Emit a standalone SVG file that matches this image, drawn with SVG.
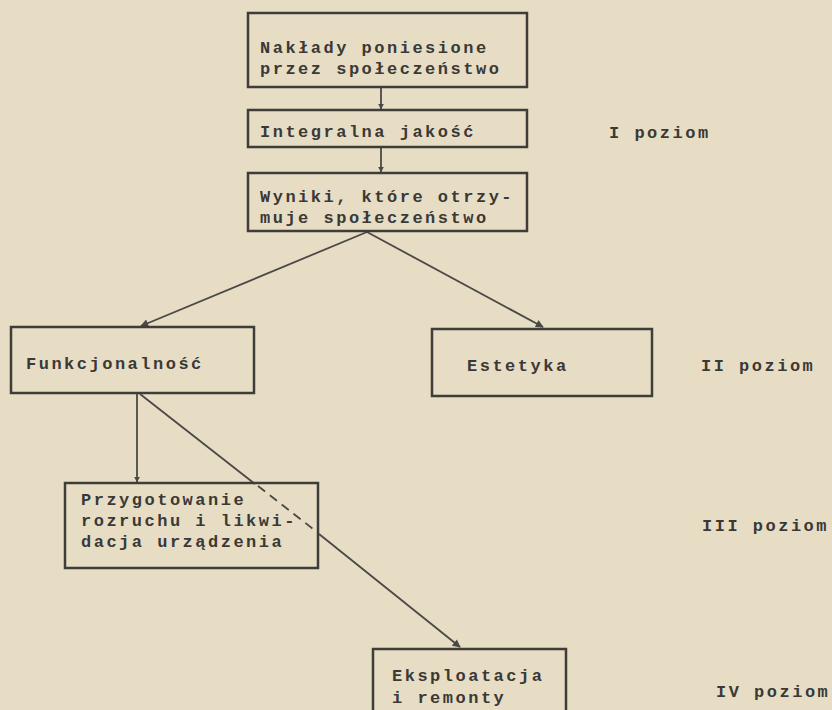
<svg xmlns="http://www.w3.org/2000/svg" width="832" height="710" viewBox="0 0 832 710">
<defs>
<style>
.bx{fill:none;stroke:#3e3d3a;stroke-width:2.5}
.t{font-family:"Liberation Mono","DejaVu Sans Mono",monospace;font-weight:bold;font-size:17px;letter-spacing:2.5px;fill:#3a3936}
.c{fill:none;stroke:#4a4945;stroke-width:1.8}
.d{fill:none;stroke:#4a4945;stroke-width:1.8;stroke-dasharray:9 6}
</style>
<marker id="ah" viewBox="0 0 10 10" refX="9" refY="5" markerWidth="6" markerHeight="6" orient="auto" markerUnits="userSpaceOnUse">
<path d="M0,0 L10,5 L0,10 z" fill="#4a4945"/>
</marker>
<marker id="ah2" viewBox="0 0 10 10" refX="9" refY="5" markerWidth="9" markerHeight="8" orient="auto" markerUnits="userSpaceOnUse">
<path d="M0,0 L10,5 L0,10 z" fill="#4a4945"/>
</marker>
</defs>
<rect width="832" height="710" fill="#e7ddc5"/>
<g id="connectors">
<line class="c" x1="381" y1="88" x2="381" y2="109" marker-end="url(#ah)"/>
<line class="c" x1="381" y1="148" x2="381" y2="172" marker-end="url(#ah)"/>
<line class="c" x1="367" y1="232" x2="141" y2="326" marker-end="url(#ah2)"/>
<line class="c" x1="367" y1="232" x2="543" y2="327" marker-end="url(#ah2)"/>
<line class="c" x1="137" y1="394" x2="137" y2="482" marker-end="url(#ah)"/>
<line class="c" x1="140" y1="394" x2="255" y2="484"/>
<line class="d" x1="258" y1="486" x2="317" y2="532"/>
<line class="c" x1="319" y1="534" x2="460" y2="647" marker-end="url(#ah2)"/>
</g>
<g id="n1">
<rect class="bx" x="248" y="13" width="279" height="74"/>
<text class="t" x="260" y="53">Nakłady poniesione</text>
<text class="t" x="260" y="74">przez społeczeństwo</text>
</g>
<g id="n2">
<rect class="bx" x="248" y="110" width="279" height="37"/>
<text class="t" x="260" y="137">Integralna jakość</text>
</g>
<g id="n3">
<rect class="bx" x="248" y="173" width="279" height="58"/>
<text class="t" x="260" y="202">Wyniki, które otrzy-</text>
<text class="t" x="260" y="223">muje społeczeństwo</text>
</g>
<g id="n4">
<rect class="bx" x="11" y="327" width="243" height="66"/>
<text class="t" x="26" y="369">Funkcjonalność</text>
</g>
<g id="n5">
<rect class="bx" x="432" y="329" width="220" height="67"/>
<text class="t" x="467" y="371">Estetyka</text>
</g>
<g id="n6">
<rect class="bx" x="65" y="483" width="253" height="85"/>
<text class="t" x="81" y="505">Przygotowanie</text>
<text class="t" x="81" y="526">rozruchu i likwi-</text>
<text class="t" x="81" y="547">dacja urządzenia</text>
</g>
<g id="n7">
<rect class="bx" x="373" y="649" width="193" height="70"/>
<text class="t" x="392" y="681">Eksploatacja</text>
<text class="t" x="392" y="703">i remonty</text>
</g>
<g id="levels">
<text class="t" x="609" y="138">I poziom</text>
<text class="t" x="701" y="371">II poziom</text>
<text class="t" x="702" y="531">III poziom</text>
<text class="t" x="716" y="697">IV poziom</text>
</g>
</svg>
